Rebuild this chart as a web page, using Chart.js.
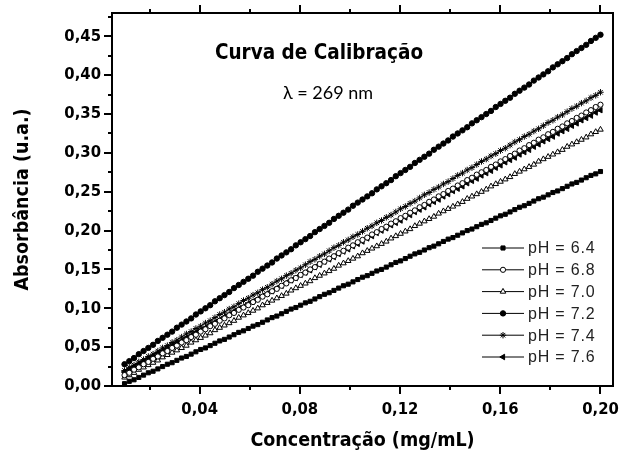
<!DOCTYPE html>
<html lang="pt-BR">
<head>
<meta charset="utf-8">
<title>Curva de Calibração</title>
<script src="https://cdn.jsdelivr.net/npm/chart.js"></script>
<style>
    html, body { margin: 0; padding: 0; background: #fff; }
    #grafico { display: block; }
</style>
</head>
<body>
<canvas id="grafico" width="622" height="455"></canvas>
<script>
// Concentração (mg/mL) - eixo x
const concentracao = [
    0.0100, 0.0119, 0.0138, 0.0157, 0.0176, 0.0195, 0.0214, 0.0233, 0.0252, 0.0271,
    0.0290, 0.0309, 0.0328, 0.0347, 0.0366, 0.0385, 0.0404, 0.0423, 0.0442, 0.0461,
    0.0480, 0.0499, 0.0518, 0.0537, 0.0556, 0.0575, 0.0594, 0.0613, 0.0632, 0.0651,
    0.0670, 0.0689, 0.0708, 0.0727, 0.0746, 0.0765, 0.0784, 0.0803, 0.0822, 0.0841,
    0.0860, 0.0879, 0.0898, 0.0917, 0.0936, 0.0955, 0.0974, 0.0993, 0.1012, 0.1031,
    0.1050, 0.1069, 0.1088, 0.1107, 0.1126, 0.1145, 0.1164, 0.1183, 0.1202, 0.1221,
    0.1240, 0.1259, 0.1278, 0.1297, 0.1316, 0.1335, 0.1354, 0.1373, 0.1392, 0.1411,
    0.1430, 0.1449, 0.1468, 0.1487, 0.1506, 0.1525, 0.1544, 0.1563, 0.1582, 0.1601,
    0.1620, 0.1639, 0.1658, 0.1677, 0.1696, 0.1715, 0.1734, 0.1753, 0.1772, 0.1791,
    0.1810, 0.1829, 0.1848, 0.1867, 0.1886, 0.1905, 0.1924, 0.1943, 0.1962, 0.1981,
    0.2000
];

// Absorbância (u.a.) para cada pH
const absPH64 = [
    0.003, 0.006, 0.008, 0.011, 0.014, 0.017, 0.019, 0.022, 0.025, 0.028,
    0.030, 0.033, 0.036, 0.038, 0.041, 0.044, 0.047, 0.049, 0.052, 0.055,
    0.058, 0.060, 0.063, 0.066, 0.069, 0.071, 0.074, 0.077, 0.079, 0.082,
    0.085, 0.088, 0.090, 0.093, 0.096, 0.099, 0.101, 0.104, 0.107, 0.109,
    0.112, 0.115, 0.118, 0.120, 0.123, 0.126, 0.129, 0.131, 0.134, 0.137,
    0.140, 0.142, 0.145, 0.148, 0.150, 0.153, 0.156, 0.159, 0.161, 0.164,
    0.167, 0.170, 0.172, 0.175, 0.178, 0.180, 0.183, 0.186, 0.189, 0.191,
    0.194, 0.197, 0.200, 0.202, 0.205, 0.208, 0.210, 0.213, 0.216, 0.219,
    0.221, 0.224, 0.227, 0.230, 0.232, 0.235, 0.238, 0.241, 0.243, 0.246,
    0.249, 0.251, 0.254, 0.257, 0.260, 0.262, 0.265, 0.268, 0.271, 0.273,
    0.276
];
const absPH68 = [
    0.014, 0.017, 0.021, 0.024, 0.028, 0.031, 0.035, 0.038, 0.042, 0.045,
    0.049, 0.052, 0.056, 0.059, 0.063, 0.066, 0.070, 0.073, 0.077, 0.080,
    0.084, 0.087, 0.091, 0.094, 0.098, 0.101, 0.104, 0.108, 0.111, 0.115,
    0.118, 0.122, 0.125, 0.129, 0.132, 0.136, 0.139, 0.143, 0.146, 0.150,
    0.153, 0.157, 0.160, 0.164, 0.167, 0.171, 0.174, 0.178, 0.181, 0.185,
    0.188, 0.191, 0.195, 0.198, 0.202, 0.205, 0.209, 0.212, 0.216, 0.219,
    0.223, 0.226, 0.230, 0.233, 0.237, 0.240, 0.244, 0.247, 0.251, 0.254,
    0.258, 0.261, 0.265, 0.268, 0.272, 0.275, 0.278, 0.282, 0.285, 0.289,
    0.292, 0.296, 0.299, 0.303, 0.306, 0.310, 0.313, 0.317, 0.320, 0.324,
    0.327, 0.331, 0.334, 0.338, 0.341, 0.345, 0.348, 0.352, 0.355, 0.359,
    0.362
];
const absPH70 = [
    0.011, 0.014, 0.017, 0.021, 0.024, 0.027, 0.030, 0.033, 0.037, 0.040,
    0.043, 0.046, 0.049, 0.052, 0.056, 0.059, 0.062, 0.065, 0.068, 0.072,
    0.075, 0.078, 0.081, 0.084, 0.088, 0.091, 0.094, 0.097, 0.100, 0.104,
    0.107, 0.110, 0.113, 0.116, 0.119, 0.123, 0.126, 0.129, 0.132, 0.135,
    0.139, 0.142, 0.145, 0.148, 0.151, 0.155, 0.158, 0.161, 0.164, 0.167,
    0.171, 0.174, 0.177, 0.180, 0.183, 0.186, 0.190, 0.193, 0.196, 0.199,
    0.202, 0.206, 0.209, 0.212, 0.215, 0.218, 0.222, 0.225, 0.228, 0.231,
    0.234, 0.237, 0.241, 0.244, 0.247, 0.250, 0.253, 0.257, 0.260, 0.263,
    0.266, 0.269, 0.273, 0.276, 0.279, 0.282, 0.285, 0.289, 0.292, 0.295,
    0.298, 0.301, 0.304, 0.308, 0.311, 0.314, 0.317, 0.320, 0.324, 0.327,
    0.330
];
const absPH72 = [
    0.028, 0.032, 0.036, 0.041, 0.045, 0.049, 0.053, 0.058, 0.062, 0.066,
    0.070, 0.075, 0.079, 0.083, 0.087, 0.092, 0.096, 0.100, 0.104, 0.109,
    0.113, 0.117, 0.121, 0.126, 0.130, 0.134, 0.138, 0.142, 0.147, 0.151,
    0.155, 0.159, 0.164, 0.168, 0.172, 0.176, 0.181, 0.185, 0.189, 0.193,
    0.198, 0.202, 0.206, 0.210, 0.215, 0.219, 0.223, 0.227, 0.232, 0.236,
    0.240, 0.244, 0.248, 0.253, 0.257, 0.261, 0.265, 0.270, 0.274, 0.278,
    0.282, 0.287, 0.291, 0.295, 0.299, 0.304, 0.308, 0.312, 0.316, 0.321,
    0.325, 0.329, 0.333, 0.338, 0.342, 0.346, 0.350, 0.354, 0.359, 0.363,
    0.367, 0.371, 0.376, 0.380, 0.384, 0.388, 0.393, 0.397, 0.401, 0.405,
    0.410, 0.414, 0.418, 0.422, 0.427, 0.431, 0.435, 0.439, 0.444, 0.448,
    0.452
];
const absPH74 = [
    0.020, 0.024, 0.027, 0.031, 0.034, 0.038, 0.041, 0.045, 0.049, 0.052,
    0.056, 0.059, 0.063, 0.067, 0.070, 0.074, 0.077, 0.081, 0.084, 0.088,
    0.092, 0.095, 0.099, 0.102, 0.106, 0.110, 0.113, 0.117, 0.120, 0.124,
    0.127, 0.131, 0.135, 0.138, 0.142, 0.145, 0.149, 0.152, 0.156, 0.160,
    0.163, 0.167, 0.170, 0.174, 0.178, 0.181, 0.185, 0.188, 0.192, 0.195,
    0.199, 0.203, 0.206, 0.210, 0.213, 0.217, 0.220, 0.224, 0.228, 0.231,
    0.235, 0.238, 0.242, 0.246, 0.249, 0.253, 0.256, 0.260, 0.263, 0.267,
    0.271, 0.274, 0.278, 0.281, 0.285, 0.289, 0.292, 0.296, 0.299, 0.303,
    0.306, 0.310, 0.314, 0.317, 0.321, 0.324, 0.328, 0.331, 0.335, 0.339,
    0.342, 0.346, 0.349, 0.353, 0.357, 0.360, 0.364, 0.367, 0.371, 0.374,
    0.378
];
const absPH76 = [
    0.018, 0.021, 0.025, 0.028, 0.031, 0.035, 0.038, 0.042, 0.045, 0.048,
    0.052, 0.055, 0.058, 0.062, 0.065, 0.069, 0.072, 0.075, 0.079, 0.082,
    0.085, 0.089, 0.092, 0.096, 0.099, 0.102, 0.106, 0.109, 0.112, 0.116,
    0.119, 0.122, 0.126, 0.129, 0.133, 0.136, 0.139, 0.143, 0.146, 0.149,
    0.153, 0.156, 0.160, 0.163, 0.166, 0.170, 0.173, 0.176, 0.180, 0.183,
    0.186, 0.190, 0.193, 0.197, 0.200, 0.203, 0.207, 0.210, 0.213, 0.217,
    0.220, 0.224, 0.227, 0.230, 0.234, 0.237, 0.240, 0.244, 0.247, 0.251,
    0.254, 0.257, 0.261, 0.264, 0.267, 0.271, 0.274, 0.277, 0.281, 0.284,
    0.288, 0.291, 0.294, 0.298, 0.301, 0.304, 0.308, 0.311, 0.315, 0.318,
    0.321, 0.325, 0.328, 0.331, 0.335, 0.338, 0.342, 0.345, 0.348, 0.352,
    0.355
];

const rotulosPH = ['pH = 6.4', 'pH = 6.8', 'pH = 7.0', 'pH = 7.2', 'pH = 7.4', 'pH = 7.6'];

// Marcas dos eixos
const ticksX = [0.04, 0.08, 0.12, 0.16, 0.20];
const ticksXMenores = [0.02, 0.06, 0.10, 0.14, 0.18];
const ticksY = [0.00, 0.05, 0.10, 0.15, 0.20, 0.25, 0.30, 0.35, 0.40, 0.45];
const ticksYMenores = [0.025, 0.075, 0.125, 0.175, 0.225, 0.275, 0.325, 0.375, 0.425, 0.475];

const fonteEixo = '"DejaVu Sans Condensed", "DejaVu Sans", sans-serif';

function serie(label, valores, estilo) {
    return Object.assign({
        label: label,
        data: concentracao.map((c, i) => ({ x: c, y: valores[i] })),
        showLine: true,
        borderColor: '#000',
        borderWidth: 1,
        pointBorderColor: '#000',
        pointBorderWidth: 1,
        pointHoverRadius: 0
    }, estilo);
}

const datasets = [
    serie(rotulosPH[0], absPH64, { pointStyle: 'rect', pointRadius: 2.9, pointBackgroundColor: '#000' }),
    serie(rotulosPH[1], absPH68, { pointStyle: 'circle', pointRadius: 2.6, pointBackgroundColor: '#fff' }),
    serie(rotulosPH[2], absPH70, { pointStyle: 'triangle', pointRadius: 3.2, pointBackgroundColor: '#fff' }),
    serie(rotulosPH[3], absPH72, { pointStyle: 'circle', pointRadius: 2.7, pointBackgroundColor: '#000' }),
    serie(rotulosPH[4], absPH74, { pointStyle: 'star', pointRadius: 3.2, pointBackgroundColor: '#fff' }),
    serie(rotulosPH[5], absPH76, { pointStyle: 'triangle', pointRotation: -90, pointRadius: 3.2, pointBackgroundColor: '#000' })
];

// Moldura com marcas para fora (estilo Origin)
const moldura = {
    id: 'moldura',
    afterDraw(chart) {
        const { ctx, chartArea: a, scales } = chart;
        ctx.save();
        ctx.strokeStyle = '#000';
        ctx.lineWidth = 2;
        ctx.strokeRect(a.left, a.top, a.right - a.left, a.bottom - a.top);

        const marcaX = (v, tam) => {
            const px = Math.round(scales.x.getPixelForValue(v));
            ctx.beginPath();
            ctx.moveTo(px, a.bottom);
            ctx.lineTo(px, a.bottom + tam);
            ctx.moveTo(px, a.top);
            ctx.lineTo(px, a.top - tam);
            ctx.stroke();
        };
        const marcaY = (v, tam) => {
            const py = Math.round(scales.y.getPixelForValue(v));
            ctx.beginPath();
            ctx.moveTo(a.left, py);
            ctx.lineTo(a.left - tam, py);
            ctx.stroke();
        };
        ticksX.forEach(v => marcaX(v, 8));
        ticksXMenores.forEach(v => marcaX(v, 4));
        ticksY.forEach(v => marcaY(v, 8));
        ticksYMenores.forEach(v => marcaY(v, 4));
        ctx.restore();
    }
};

// Título, comprimento de onda e legenda dentro da área do gráfico
const anotacoes = {
    id: 'anotacoes',
    afterDraw(chart) {
        const { ctx, chartArea: a } = chart;
        ctx.save();
        ctx.fillStyle = '#000';
        ctx.textAlign = 'center';
        ctx.textBaseline = 'alphabetic';
        ctx.font = 'bold 20.5px ' + fonteEixo;
        ctx.fillText('Curva de Calibração', a.left + 207, a.top + 46);
        ctx.font = '18px Lato, "Open Sans", sans-serif';
        ctx.fillText('λ = 269 nm', a.left + 216, a.top + 86);

        ctx.textAlign = 'left';
        ctx.textBaseline = 'middle';
        ctx.font = '16px "Liberation Sans", Arial, sans-serif';
        if ('letterSpacing' in ctx) ctx.letterSpacing = '0.8px';
        chart.data.datasets.forEach((ds, i) => {
            const y = a.bottom - 138 + i * 21.8;
            const x0 = a.right - 131;
            const x1 = a.right - 89;
            ctx.strokeStyle = '#000';
            ctx.lineWidth = 1;
            ctx.beginPath();
            ctx.moveTo(x0, y);
            ctx.lineTo(x1, y);
            ctx.stroke();
            ctx.fillStyle = ds.pointBackgroundColor;
            Chart.helpers.drawPoint(ctx, {
                pointStyle: ds.pointStyle,
                rotation: ds.pointRotation || 0,
                radius: ds.pointRadius,
                borderWidth: 1
            }, (x0 + x1) / 2, y);
            ctx.fillStyle = '#222';
            ctx.fillText(ds.label, a.right - 85, y + 1);
        });
        ctx.restore();
    }
};

const rotuloVirgula = v => Number(v).toFixed(2).replace('.', ',');

new Chart(document.getElementById('grafico'), {
    type: 'scatter',
    data: { datasets: datasets },
    options: {
        responsive: false,
        animation: false,
        events: [],
        layout: { autoPadding: false, padding: { top: 13, right: 9, left: 0, bottom: 0 } },
        plugins: {
            legend: { display: false },
            tooltip: { enabled: false }
        },
        scales: {
            x: {
                type: 'linear',
                min: 0.005,
                max: 0.205,
                afterBuildTicks: s => { s.ticks = ticksX.map(v => ({ value: v })); },
                afterFit: s => { s.height = 69; s.paddingLeft = 0; s.paddingRight = 0; },
                grid: { display: false, drawTicks: false },
                border: { display: false },
                ticks: {
                    padding: 14,
                    color: '#000',
                    maxRotation: 0,
                    font: { family: fonteEixo, weight: 'bold', size: 16.5 },
                    callback: rotuloVirgula
                },
                title: {
                    display: true,
                    text: 'Concentração (mg/mL)',
                    color: '#000',
                    font: { family: fonteEixo, weight: 'bold', size: 19.5 },
                    padding: { top: 0, bottom: 2 }
                }
            },
            y: {
                type: 'linear',
                min: 0,
                max: 0.48,
                afterBuildTicks: s => { s.ticks = ticksY.map(v => ({ value: v })); },
                afterFit: s => { s.width = 112; s.paddingTop = 0; s.paddingBottom = 0; },
                grid: { display: false, drawTicks: false },
                border: { display: false },
                ticks: {
                    padding: 11,
                    color: '#000',
                    font: { family: fonteEixo, weight: 'bold', size: 16.5 },
                    callback: rotuloVirgula
                },
                title: {
                    display: true,
                    text: 'Absorbância (u.a.)',
                    color: '#000',
                    font: { family: fonteEixo, weight: 'bold', size: 19.5 },
                    padding: { top: 11, bottom: 0 }
                }
            }
        }
    },
    plugins: [moldura, anotacoes]
});
</script>
</body>
</html>
